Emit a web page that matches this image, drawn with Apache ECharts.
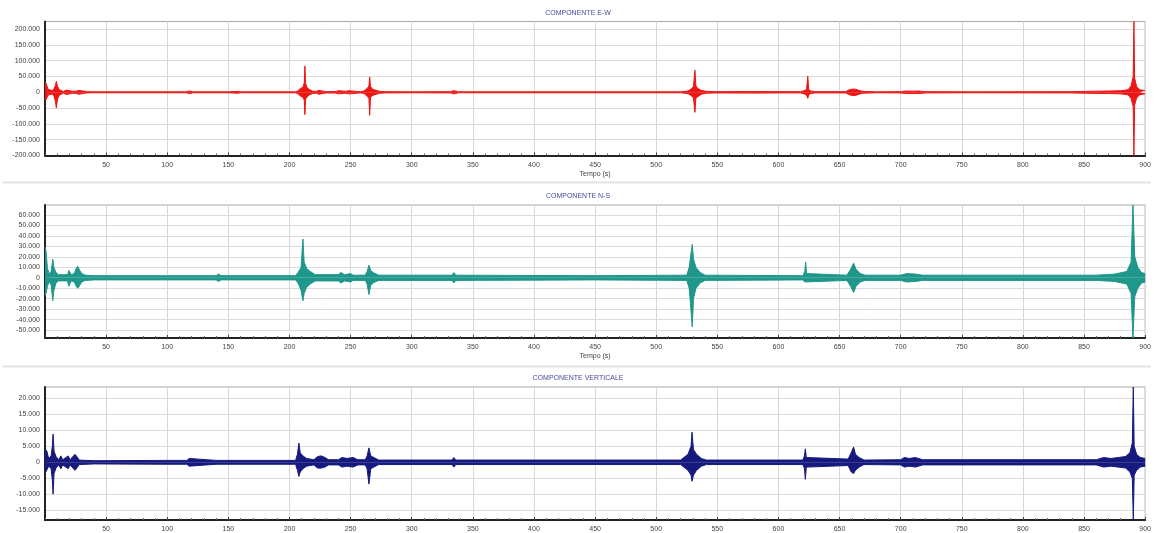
<!DOCTYPE html>
<html><head><meta charset="utf-8">
<script src="https://cdn.jsdelivr.net/npm/echarts@6/dist/echarts.min.js"></script>
<style>html,body{margin:0;padding:0;background:#fff}#c{width:1154px;height:533px}</style>
</head><body><div id="c"></div>
<script>
const titles = ['COMPONENTE E-W', 'COMPONENTE N-S', 'COMPONENTE VERTICALE'];
const xName = 'Tempo (s)';
const xTicks = [50,100,150,200,250,300,350,400,450,500,550,600,650,700,750,800,850,900];
const ewTicks = [-200000,-150000,-100000,-50000,0,50000,100000,150000,200000];
const nsTicks = [-50000,-40000,-30000,-20000,-10000,0,10000,20000,30000,40000,50000,60000];
const vtTicks = [-15000,-10000,-5000,0,5000,10000,15000,20000];
const ewRange = [-200000, 224000];
const nsRange = [-57500, 69500];
const vtRange = [-18000, 23500];

// E-W envelope (time s, upper, lower)
const ewTime  = [0,0.6,1.4,2.5,4,6,7.5,8.6,9.3,10.1,11.5,13,15,17.5,19,22.5,24,25.5,27.5,29,31,34,40,55,56,57,90,113,114,115,118.5,119.5,121,150,158,160,200,205,207,209,211,212.1,212.6,213.2,214.5,216.5,219,222,224,225.5,230,238,240,241.5,246,248.5,250,258,261,263.5,265,265.6,266.3,268,271,274,278,300,332,334,336,338,400,450,520,526,528.5,530.5,531.7,532.5,534,537,541,548,580,600,618,621,623,624,624.8,626.5,630,655,657.5,660,663,666,669,680,700,704,710,715,720,760,840,860,870,880,886,888.5,890.2,890.8,891.4,893,895.5,900];
const ewUpper = [18000,30000,22000,10000,4000,5000,12000,22000,35000,20000,9000,4000,2500,7000,2500,3000,9000,3500,6000,7000,4000,2000,1500,1500,3000,1500,1500,1500,4000,1500,4000,1500,1500,1500,3000,1500,1500,1500,5000,12000,16000,30000,83500,28000,14000,8000,3500,3000,6000,2500,2000,2500,5000,2500,3000,5000,2000,2000,4000,12000,20000,48600,18000,10000,6000,3000,2000,1500,2000,5000,4000,1500,1500,1500,1500,4000,10000,18000,70000,20000,12000,6000,3000,2000,2500,2000,2000,5000,9000,50800,8000,4000,2000,2000,7000,10000,10000,6000,3000,1500,2000,4000,3500,4000,2000,1500,2000,3500,4000,5000,8000,20000,50000,224000,45000,18000,8000,5000];
const ewLower = [-15000,-25000,-20000,-9000,-4000,-5000,-14000,-30000,-50000,-24000,-10000,-4000,-2500,-7000,-2500,-3000,-8000,-3500,-6000,-7000,-4000,-2000,-1500,-1500,-3000,-1500,-1500,-1500,-4000,-1500,-4000,-1500,-1500,-1500,-3000,-1500,-1500,-1500,-5000,-12000,-16000,-25000,-70800,-22000,-14000,-8000,-3500,-3000,-6000,-2500,-2000,-2500,-5000,-2500,-3000,-5000,-2000,-2000,-4000,-12000,-20000,-73000,-16000,-10000,-6000,-3000,-2000,-1500,-2000,-5000,-4000,-1500,-1500,-1500,-1500,-4000,-10000,-18000,-63500,-18000,-12000,-6000,-3000,-2000,-2500,-2000,-2000,-5000,-9000,-19000,-8000,-4000,-2000,-2000,-7000,-10000,-10000,-6000,-3000,-1500,-2000,-4000,-3500,-4000,-2000,-1500,-2000,-3500,-4000,-5000,-8000,-20000,-45000,-200000,-40000,-18000,-8000,-5000];

// N-S envelope
const nsTime  = [0,0.8,2,3.5,5,6.4,7.3,9,11,15,18.5,19.5,20.5,21.5,24,25.5,26.8,28,30,33,40,100,140,142,144,205,207,209.5,211,212,214,217,221,240,242,245,250,252,262,263.5,265,266.5,269,273,333,334.5,336,450,525,527,529.5,530.5,532.5,536,540,620,621.5,622.3,623,656,659,661.5,663.5,667,671,700,705,712,718,860,875,885,888.5,890,891.5,894,897,900];
const nsUpper = [29500,26000,9000,3500,6000,17600,10000,5000,3000,3000,3000,7000,7000,3000,4000,9000,11000,8000,4000,2500,2000,2000,2000,3500,2000,2000,5000,10000,37000,15000,9000,6000,3000,3000,5000,3000,4000,2500,2500,6000,12000,7000,4500,2500,2500,5000,2500,2000,2500,10000,32000,18000,10000,5000,2500,2000,6000,15000,4000,2500,8000,14000,8000,4000,2500,2500,4000,3500,2500,2500,3500,6000,15000,69500,20000,10000,5000,4000];
const nsLower = [-17000,-15000,-8000,-3500,-7000,-21800,-12000,-5000,-3000,-3000,-3000,-8000,-8000,-3000,-4000,-8000,-10000,-8000,-4000,-2500,-2000,-2000,-2000,-3500,-2000,-2000,-5000,-12000,-22000,-15000,-9000,-6000,-3000,-3000,-5000,-3000,-4000,-2500,-2500,-6000,-16000,-7000,-4500,-2500,-2500,-5000,-2500,-2000,-2500,-10000,-47000,-20000,-10000,-5000,-2500,-2000,-4000,-5000,-4000,-2500,-8000,-14000,-8000,-4000,-2500,-2500,-4000,-3500,-2500,-2500,-3500,-6000,-15000,-57500,-18000,-10000,-5000,-4000];

// VERTICALE envelope
const vtTime  = [0,1.5,3,5,6,6.6,7.4,9,11,13,14.5,19,20.5,24.5,26,28,40,100,101.5,103,113,114.5,116,118,119.5,140,205,206.5,207.7,208.8,211,214,220,223,226,229,232,240,243,247,252,256,262,263.5,265,266.5,269,273,333,334.5,336,520,526,528.5,529.3,530.5,533,537,541,620,621.3,622,622.8,657,659.5,661.5,663,666,670,700,703,707,712,718,860,866,872,878,884,887.5,889.5,890.3,891,893,896,900];
const vtUpper = [4200,3500,1200,2000,5000,8800,3500,1800,800,2000,800,2000,800,2500,1800,700,500,600,1200,600,600,1200,600,1200,600,600,600,2500,6000,3000,2000,1200,800,1800,2000,1500,800,800,1500,1200,1500,800,800,2000,4500,2000,1500,700,700,1500,700,700,2500,5000,9400,4000,2500,1200,700,700,2000,4200,1500,1000,3000,4800,2500,1500,700,800,1500,1200,1500,800,800,1500,1200,1500,1800,3000,6000,23500,5000,2500,1500,1200];
const vtLower = [-3500,-3000,-1200,-2000,-5500,-9900,-3500,-1800,-800,-2000,-800,-2000,-800,-2500,-1800,-700,-500,-600,-1200,-600,-600,-1200,-600,-1200,-600,-600,-600,-2500,-4400,-3000,-2000,-1200,-800,-1800,-1800,-1500,-800,-800,-1500,-1200,-1500,-800,-800,-2000,-6800,-2000,-1500,-700,-700,-1500,-700,-700,-2500,-4000,-5900,-4000,-2500,-1200,-700,-700,-2000,-5300,-1500,-1000,-3000,-3500,-2500,-1500,-700,-800,-1500,-1200,-1500,-800,-800,-1500,-1200,-1500,-1800,-3000,-5000,-18000,-4000,-2500,-1500,-1200];

const colors = ['#ee1515', '#1f978a', '#161a7e'];
const FONT = 'Liberation Sans';

function fmt(v) {
  if (v === 0) return '0';
  const s = Math.abs(Math.round(v)).toString().replace(/\B(?=(\d{3})+(?!\d))/g, '.');
  return (v < 0 ? '-' : '') + s;
}
function pair(t, v) { return t.map((x, i) => [x, v[i]]); }

const grids = [
  {left: 45, right: 6, top: 21.5, height: 134},
  {left: 45, right: 6, top: 205, height: 133},
  {left: 45, right: 6, top: 387, height: 136}
].map(g => Object.assign(g, {show: true, borderColor: '#a8a8a8', borderWidth: 1, backgroundColor: '#fff'}));

const yTicks = [ewTicks, nsTicks, vtTicks];
const yRanges = [ewRange, nsRange, vtRange];
const env = [[ewTime, ewUpper, ewLower], [nsTime, nsUpper, nsLower], [vtTime, vtUpper, vtLower]];

const xAxes = [0, 1, 2].map(i => ({
  gridIndex: i, type: 'value', min: 0, max: 900, interval: 50,
  name: i < 2 ? xName : '', nameLocation: 'middle', nameGap: 15,
  nameTextStyle: {fontSize: 7, color: '#444', fontFamily: FONT},
  axisLine: {show: true, onZero: false, lineStyle: {color: '#222', width: 2}},
  axisTick: {show: true, inside: true, length: 3, lineStyle: {color: '#444'}},
  minorTick: {show: true, splitNumber: 5, length: 2, lineStyle: {color: '#666'}},
  axisLabel: {customValues: xTicks, fontSize: 7, color: '#444', margin: 6, fontFamily: FONT, formatter: v => String(v)},
  splitLine: {show: true, lineStyle: {color: '#d8d8d8', width: 1}}
}));

const yAxes = [0, 1, 2].map(i => ({
  gridIndex: i, type: 'value', min: yRanges[i][0], max: yRanges[i][1],
  axisLine: {show: true, onZero: false, lineStyle: {color: '#222', width: 2}},
  axisTick: {show: false, customValues: yTicks[i]},
  axisLabel: {customValues: yTicks[i], fontSize: 7, color: '#444', margin: 5, fontFamily: FONT, formatter: fmt},
  splitLine: {show: true, lineStyle: {color: '#dcdcdc', width: 1}}
}));

const series = [];
[0, 1, 2].forEach(i => {
  const [t, up, lo] = env[i];
  [up, lo].forEach(v => {
    series.push({
      type: 'line', xAxisIndex: i, yAxisIndex: i, data: pair(t, v),
      showSymbol: false, symbol: 'none', smooth: false, clip: true,
      lineStyle: {color: colors[i], width: 1},
      areaStyle: {color: colors[i], opacity: 1, origin: 0},
      emphasis: {disabled: true}, silent: true
    });
  });
});

const titleTops = [10, 193, 375];
const chart = echarts.init(document.getElementById('c'), null, {renderer: 'canvas'});
chart.setOption({
  animation: false,
  backgroundColor: '#fff',
  title: titles.map((t, i) => ({
    text: t, left: 578, top: titleTops[i], textAlign: 'center', padding: 0,
    textStyle: {fontSize: 7, fontWeight: 'normal', color: '#4a4a9e', fontFamily: FONT}
  })),
  graphic: [
    {type: 'rect', shape: {x: 3, y: 181.5, width: 1148, height: 2}, style: {fill: '#e4e4e4'}, silent: true},
    {type: 'rect', shape: {x: 3, y: 365.5, width: 1148, height: 2}, style: {fill: '#e4e4e4'}, silent: true}
  ],
  grid: grids,
  xAxis: xAxes,
  yAxis: yAxes,
  series: series
});
</script>
</body></html>
